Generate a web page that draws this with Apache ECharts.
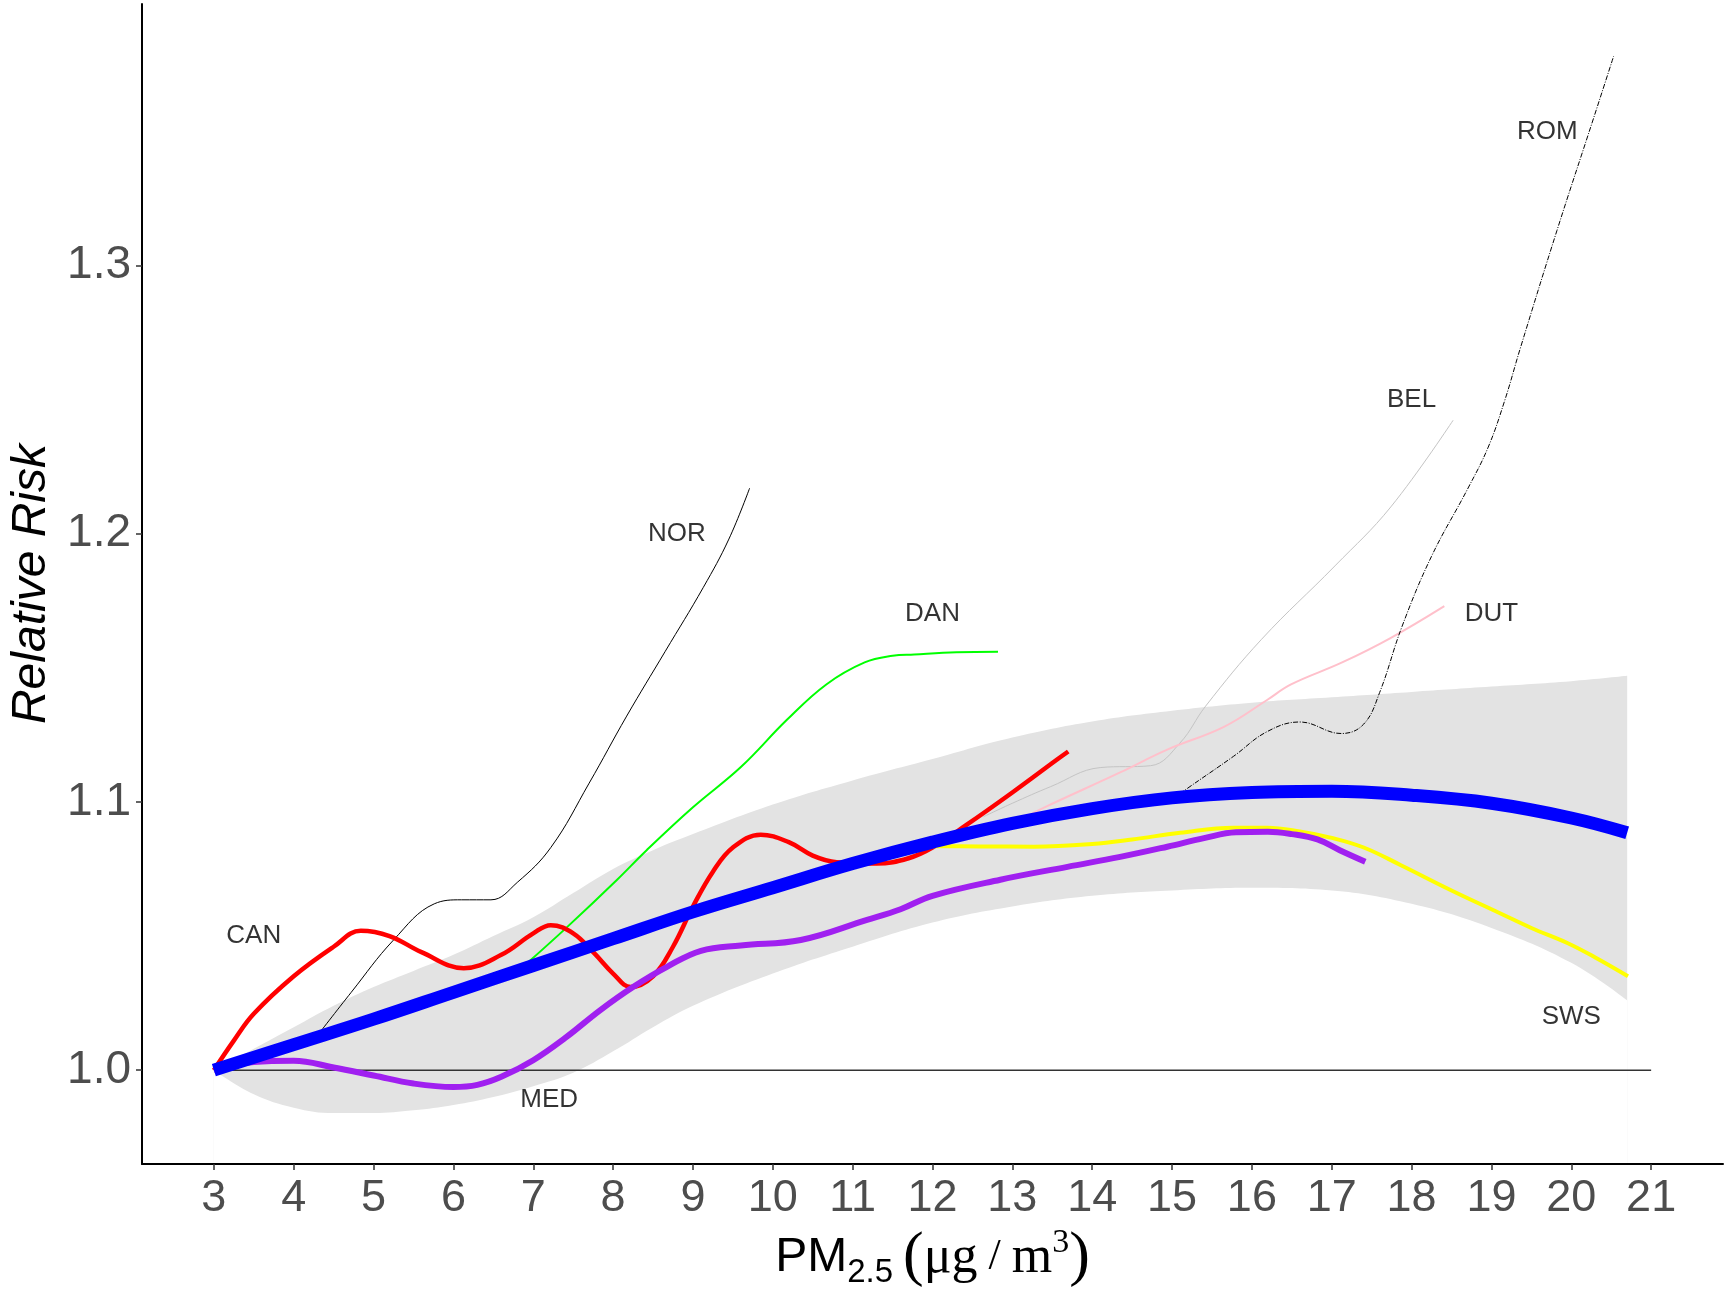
<!DOCTYPE html>
<html>
<head>
<meta charset="utf-8">
<script src="https://cdn.jsdelivr.net/npm/echarts@6/dist/echarts.min.js"></script>
<style>html,body{margin:0;padding:0;background:#fff}#c{width:1730px;height:1296px}</style>
</head>
<body>
<div id="c"></div>
<script>
// ---- tick labels ----
const xTicks = [3,4,5,6,7,8,9,10,11,12,13,14,15,16,17,18,19,20,21];
const yTicks = [1.0,1.1,1.2,1.3];

// ---- pooled curve and its confidence band ----
const pooledX = [3,4,5,6,7,8,9,10,11,12,13,14,15,16,17,18,19,20,20.7];
const pooledY = [1.000,1.0095,1.019,1.029,1.039,1.049,1.059,1.068,1.077,1.085,1.092,1.0975,1.1015,1.1035,1.104,1.1025,1.0995,1.094,1.0885];

const bandX     = [3,3.5,4,4.5,5,5.5,6,6.5,7,7.5,8,8.5,9,10,11,12,13,14,15,16,17,18,19,20,20.7];
const bandUpper = [1.000,1.008,1.016,1.024,1.031,1.037,1.043,1.050,1.057,1.066,1.075,1.082,1.088,1.099,1.108,1.116,1.124,1.130,1.134,1.137,1.139,1.141,1.143,1.145,1.147];
const bandLower = [1.000,0.991,0.986,0.984,0.984,0.985,0.987,0.990,0.994,0.999,1.007,1.016,1.024,1.036,1.046,1.055,1.061,1.065,1.067,1.068,1.067,1.062,1.053,1.040,1.026];

// ---- cohort curves ----
const CAN = [[3,1.000],[3.25,1.011],[3.5,1.021],[4.0,1.035],[4.5,1.046],[4.84,1.052],[5.2,1.050],[5.6,1.044],[6.13,1.038],[6.6,1.043],[7.0,1.051],[7.22,1.054],[7.5,1.051],[7.76,1.0437],[8.0,1.036],[8.22,1.031],[8.5,1.035],[8.75,1.046],[9.0,1.061],[9.25,1.074],[9.5,1.083],[9.85,1.0878],[10.2,1.085],[10.5,1.080],[10.8,1.0775],[11.3,1.077],[11.7,1.079],[12.0,1.083],[12.43,1.0915],[13.0,1.1035],[13.56,1.1158],[13.7,1.1188]];
const MED = [[3,1.000],[3.5,1.003],[4.0,1.0035],[4.5,1.001],[5.0,0.998],[5.5,0.995],[6.0,0.9937],[6.3,0.9945],[6.6,0.9975],[7.0,1.0037],[7.4,1.012],[7.84,1.0224],[8.25,1.031],[8.68,1.0386],[9.1,1.0445],[9.6,1.0465],[10.35,1.0485],[11.18,1.056],[11.6,1.060],[12.0,1.065],[12.85,1.071],[13.69,1.0758],[14.35,1.0795],[14.94,1.0833],[15.4,1.0865],[15.8,1.0887],[16.2,1.0889],[16.5,1.088],[16.82,1.086],[17.1,1.082],[17.42,1.0777]];
const SWS = [[11.8,1.0835],[12.6,1.0834],[13.27,1.0833],[14.0,1.0843],[14.5,1.086],[15.1,1.0885],[15.77,1.0904],[16.19,1.0904],[16.6,1.089],[17.0,1.0866],[17.4,1.083],[17.86,1.0765],[18.5,1.067],[19.1,1.0586],[19.5,1.053],[19.95,1.0474],[20.3,1.042],[20.71,1.035]];
const NOR = [[4.3,1.013],[4.72,1.029],[5.25,1.0485],[5.76,1.062],[6.1,1.0635],[6.47,1.0635],[6.8,1.070],[7.22,1.083],[7.7,1.107],[8.17,1.132],[8.65,1.156],[9.13,1.180],[9.45,1.198],[9.71,1.217]];
const DAN = [[6.94,1.0403],[7.43,1.0535],[8.05,1.071],[8.42,1.082],[9.0,1.098],[9.6,1.113],[10.18,1.1307],[10.67,1.1438],[11.15,1.152],[11.5,1.1545],[11.77,1.155],[12.3,1.1558],[12.82,1.156]];
const BEL = [[12.64,1.0945],[13.0,1.0995],[13.48,1.1057],[14.1,1.1128],[14.73,1.1135],[15.1,1.122],[15.42,1.1357],[16.12,1.1606],[17.04,1.188],[17.74,1.210],[18.52,1.2423]];
const DUT = [[13.0,1.092],[13.39,1.0978],[14.35,1.111],[14.94,1.1195],[15.65,1.128],[16.19,1.138],[16.49,1.1438],[17.13,1.152],[17.73,1.161],[18.41,1.173]];
const ROM = [[15.1,1.103],[15.19,1.105],[15.77,1.117],[16.19,1.1262],[16.6,1.1298],[17.12,1.1255],[17.4,1.129],[17.6,1.1408],[17.88,1.1654],[18.25,1.1916],[18.7,1.2166],[18.96,1.2323],[19.17,1.250],[19.36,1.269],[19.82,1.313],[20.28,1.355],[20.53,1.378]];
const refLine = [[3,1],[21,1]];

// ---- text labels ----
const labelNames = ['CAN','MED','NOR','DAN','BEL','ROM','DUT','SWS'];
const labelX     = [3.5, 7.2, 8.8, 12, 18, 19.7, 19, 20];
const labelY     = [1.05, 0.989, 1.2, 1.17, 1.25, 1.35, 1.17, 1.02];

const chart = echarts.init(document.getElementById('c'), null, {renderer:'canvas'});
const SANS = 'Liberation Sans, Arial, sans-serif';
const SERIF = 'Liberation Serif, Times New Roman, serif';

function line(name, data, color, width, extra) {
  return Object.assign({
    name, type:'line', data, smooth:0.4, symbol:'none', silent:true, z:3,
    lineStyle:{color, width, cap:'butt'}
  }, extra || {});
}

chart.setOption({
  animation:false,
  backgroundColor:'#ffffff',
  grid:{left:141, right:7, top:4, bottom:132, containLabel:false},
  xAxis:{
    type:'value', min:2.1, max:21.9, z:10,
    name:'{pm|PM}{sub|2.5}{sp| }{par|(}{mu|μg}{sl| / }{mu|m}{sup|3}{par|)}',
    nameLocation:'middle', nameGap:58,
    nameTextStyle:{
      rich:{
        pm:{fontFamily:SANS, fontSize:48, color:'#000', lineHeight:64},
        sub:{fontFamily:SANS, fontSize:33, color:'#000', verticalAlign:'bottom', lineHeight:40},
        sp:{fontFamily:SANS, fontSize:36, color:'#000', lineHeight:64},
        par:{fontFamily:SERIF, fontSize:62, color:'#000', lineHeight:64},
        mu:{fontFamily:SERIF, fontSize:52, color:'#000', lineHeight:64},
        sl:{fontFamily:SERIF, fontSize:44, color:'#000', lineHeight:64},
        sup:{fontFamily:SERIF, fontSize:34, color:'#000', verticalAlign:'top', lineHeight:34}
      }
    },
    splitLine:{show:false},
    axisLine:{onZero:false, lineStyle:{color:'#000', width:2}},
    axisTick:{customValues:xTicks, length:6, lineStyle:{color:'#333', width:1.5}},
    axisLabel:{customValues:xTicks, fontFamily:SANS, fontSize:45, color:'#4d4d4d', margin:12}
  },
  yAxis:{
    type:'value', min:0.965, max:1.3975, z:10,
    name:'Relative Risk', nameLocation:'middle', nameGap:86,
    nameTextStyle:{fontFamily:SANS, fontSize:48, fontStyle:'italic', color:'#000'},
    splitLine:{show:false},
    axisLine:{show:true, onZero:false, lineStyle:{color:'#000', width:2}},
    axisTick:{show:true, customValues:yTicks, length:6, lineStyle:{color:'#333', width:1.5}},
    axisLabel:{customValues:yTicks, fontFamily:SANS, fontSize:46, color:'#4d4d4d', margin:11,
      formatter:v=>Number(v).toFixed(1)}
  },
  series:[
    {name:'bandUpper', type:'line', smooth:0.4, symbol:'none', silent:true, z:1,
     data:bandX.map((x,i)=>[x,bandUpper[i]]), lineStyle:{width:0, opacity:0},
     areaStyle:{color:'#e3e3e3', opacity:1, origin:'start'}},
    {name:'bandLower', type:'line', smooth:0.4, symbol:'none', silent:true, z:1,
     data:bandX.map((x,i)=>[x,bandLower[i]]), lineStyle:{width:0, opacity:0},
     areaStyle:{color:'#ffffff', opacity:1, origin:'start'}},
    line('ref', refLine, '#333333', 1.5, {smooth:false}),
    line('NOR', NOR, '#000000', 1),
    line('DAN', DAN, '#00ff00', 2),
    line('BEL', BEL, '#c4c4c4', 1),
    line('DUT', DUT, '#ffc0cb', 2),
    line('ROM', ROM, '#000000', 1, {lineStyle:{color:'#000', width:1, type:[5,1.5,1,1.5]}}),
    line('CAN', CAN, '#ff0000', 4.5),
    line('SWS', SWS, '#ffff00', 4),
    line('MED', MED, '#a020f0', 6),
    line('Pooled', pooledX.map((x,i)=>[x,pooledY[i]]), '#0000ff', 13),
    {name:'labels', type:'scatter', silent:true, symbolSize:1, z:20,
     itemStyle:{color:'rgba(0,0,0,0)'},
     data:labelNames.map((n,i)=>({name:n, value:[labelX[i], labelY[i]]})),
     label:{show:true, position:'inside', formatter:'{b}', fontFamily:SANS, fontSize:26, color:'#000'}}
  ]
});
</script>
</body>
</html>
